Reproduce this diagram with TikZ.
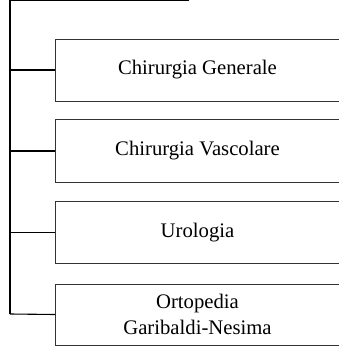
\documentclass[tikz,border=0pt]{standalone}
\usepackage{fontspec}
\setmainfont{Liberation Serif}
\begin{document}
\begin{tikzpicture}[x=1pt,y=-1pt,
  unit/.style={draw=black!80,line width=1pt,minimum width=284pt,inner sep=0pt,align=center,
    font=\fontsize{20.7pt}{26pt}\selectfont,anchor=north west},
  conn/.style={draw=black,line width=1.1pt}]
\useasboundingbox (0,0) rectangle (338,346);
\coordinate (top) at (10,0.8);
\coordinate (topr) at (189,0.8);
\coordinate (bot) at (10,314);
\node[unit,minimum height=62pt] (b1) at (55,38.5) {Chirurgia Generale};
\node[unit,minimum height=63pt] (b2) at (55,119) {Chirurgia Vascolare};
\node[unit,minimum height=62pt] (b3) at (55,201) {Urologia};
\node[unit,minimum height=61pt] (b4) at (55,283.5) {Ortopedia\\Garibaldi-Nesima};
\draw[conn] (topr) -- (top) -- (bot);
\draw[conn] (b1.west) -- (b1.west -| top);
\draw[conn] (b2.west) -- (b2.west -| top);
\draw[conn] (b3.west) -- (b3.west -| top);
\draw[conn] (b4.west) -- (bot);
\end{tikzpicture}
\end{document}
